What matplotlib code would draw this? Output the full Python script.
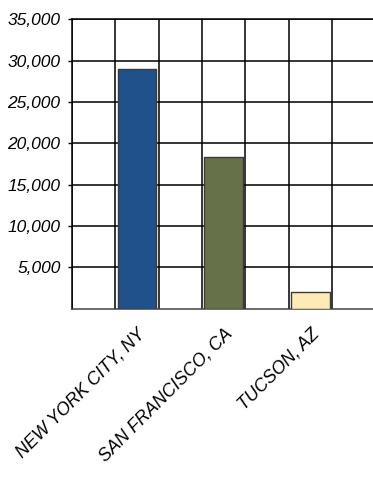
import matplotlib
matplotlib.use('Agg')
import matplotlib.pyplot as plt
import numpy as np
from matplotlib.ticker import FuncFormatter, MultipleLocator

plt.rcParams.update({
    'font.family': 'Liberation Sans',
    'font.style': 'italic',
})

# Data
cities = ['NEW YORK CITY, NY', 'SAN FRANCISCO, CA', 'TUCSON, AZ']
population = [29000, 18300, 2000]
bar_colors = ['#21518a', '#66714a', '#feeab5']
y_ticks = [5000, 10000, 15000, 20000, 25000, 30000, 35000]

fig = plt.figure(figsize=(3.73, 4.79), dpi=100)
# plot area runs slightly past the right edge of the image, like the reference
ax = fig.add_axes([71.7 / 373, 1 - 308.7 / 479, 304 / 373, 289.4 / 479])

# each bar sits in every other grid column
x = np.arange(len(cities)) * 2 + 1.5
ax.bar(x, population, width=0.89, color=bar_colors, edgecolor='#3a3a3a',
       linewidth=1.0, zorder=3)

ax.set_xlim(0, 7)
ax.set_ylim(0, 35000)

ax.set_yticks(y_ticks)
ax.yaxis.set_major_formatter(FuncFormatter(lambda v, _: f'{int(v):,}'))
ax.tick_params(axis='y', length=3, width=1.0, pad=5, labelsize=12.5)

ax.set_xticks(x)
ax.set_xticklabels(cities, rotation=45, ha='right', rotation_mode='anchor',
                   fontsize=12.8)
ax.xaxis.set_minor_locator(MultipleLocator(1))
ax.tick_params(axis='x', which='both', length=0, pad=12)

ax.grid(True, axis='y', which='major', color='black', linewidth=1.1, zorder=0)
ax.grid(True, axis='x', which='minor', color='black', linewidth=1.1, zorder=0)
ax.grid(False, axis='x', which='major')
ax.set_axisbelow(True)

for side in ['top', 'left', 'bottom']:
    ax.spines[side].set_color('black')
    ax.spines[side].set_linewidth(1.1)
ax.spines['bottom'].set_color('#444444')

fig.savefig('out.png', dpi=100)
